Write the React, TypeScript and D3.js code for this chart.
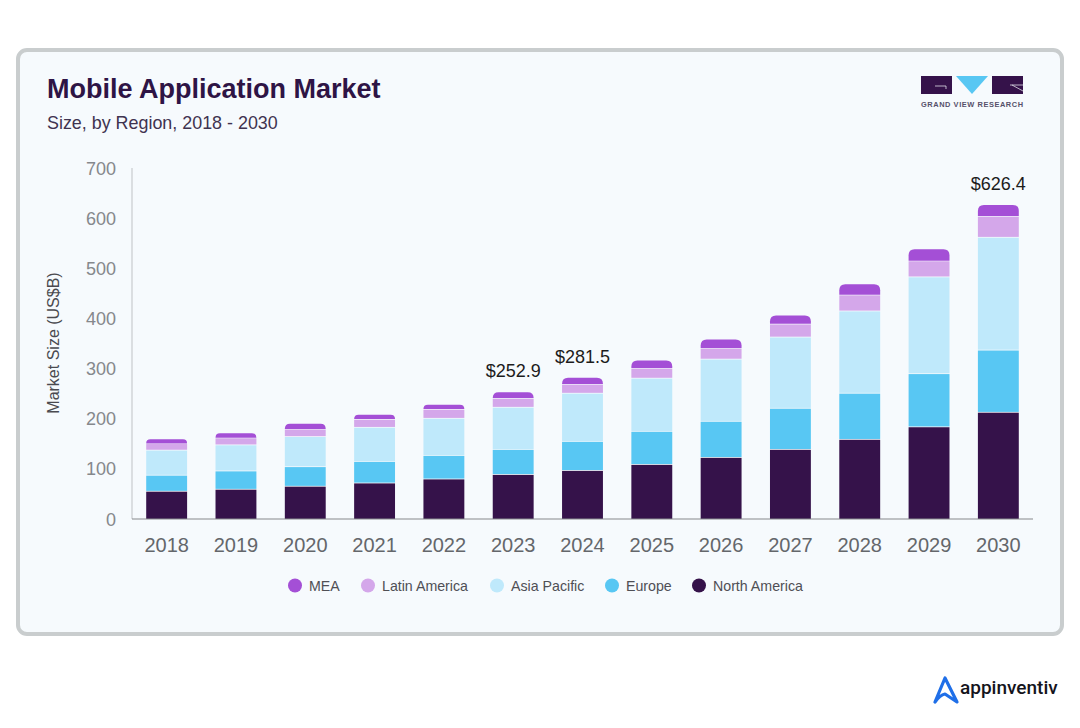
import React from "react";
import * as d3 from "d3";

const years = ["2018","2019","2020","2021","2022","2023","2024","2025","2026","2027","2028","2029","2030"];
const northAmerica = [54.5,58.5,64.5,71,79,88,96,108,122,138,158,183,212];
const europe = [32,36.5,39,43,47,50,58,66,72,82,92,106,124];
const asiaPacific = [50,52,60,68,74,84,96,106,124,142,164,193,225];
const latinAmerica = [13,14,15,16,18,18,18,20,22,26,32,32,42];
const mea = [9.5,10,11.5,10,10,12.9,13.5,16,18,18,22,24,23.4];
const seriesNames = ["North America","Europe","Asia Pacific","Latin America","MEA"];
const seriesColors = ["#35124a","#58c7f3","#bfe9fb","#d4a7ea","#a44fd6"];
const legendOrder = [4,3,2,1,0];
const legendDotX = [295,368,497,612,699];
const yTicks = [0,100,200,300,400,500,600,700];
const callouts: Record<string,string> = { "2023":"$252.9", "2024":"$281.5", "2030":"$626.4" };

const FONT = "'Liberation Sans', Arial, sans-serif";
const allSeries = [northAmerica, europe, asiaPacific, latinAmerica, mea];

const x = d3.scaleBand<string>().domain(years).range([132,1033]).paddingInner(0.41).paddingOuter(0.205);
const y = d3.scaleLinear().domain([0,700]).range([519,168]);

const rows = years.map((yr,i)=>({ year: yr, v0: northAmerica[i], v1: europe[i], v2: asiaPacific[i], v3: latinAmerica[i], v4: mea[i] }));
const stacked = d3.stack<any>().keys(["v0","v1","v2","v3","v4"])(rows);

function topRounded(x0:number,y0:number,w:number,h:number,r:number){
  const p = d3.path();
  const rr = Math.min(r,h);
  p.moveTo(x0,y0+h);
  p.lineTo(x0,y0+rr);
  p.quadraticCurveTo(x0,y0,x0+rr,y0);
  p.lineTo(x0+w-rr,y0);
  p.quadraticCurveTo(x0+w,y0,x0+w,y0+rr);
  p.lineTo(x0+w,y0+h);
  p.closePath();
  return p.toString();
}

export default function App(){
  const bw = x.bandwidth();
  return (
    <svg width={1080} height={728} style={{position:"absolute",left:0,top:0,background:"#fff"}} fontFamily={FONT}>
      <rect x={18} y={50} width={1044} height={584} rx={9} fill="#f6fafd" stroke="#c9cdce" strokeWidth={4}/>
      <text x={47} y={98} fontSize={27} fontWeight={700} fill="#2e1445">Mobile Application Market</text>
      <text x={47} y={129} fontSize={17.9} fill="#3f3350">Size, by Region, 2018 - 2030</text>

      {/* GVR logo */}
      <g>
        <rect x={921} y={76} width={31} height={18} fill="#35124a"/>
        <path d="M935 86H946V89" fill="none" stroke="#f6fafd" strokeWidth={0.7}/>
        <polygon points="956,76 988,76 972,94" fill="#58c7f3"/>
        <rect x={992} y={76} width={31} height={18} fill="#35124a"/>
        <path d="M1010 85L1023 85M1012 85L1023 91" fill="none" stroke="#f6fafd" strokeWidth={0.7}/>
        <text x={921} y={107} fontSize={7.4} fontWeight={700} fill="#55506a" textLength={102}>GRAND VIEW RESEARCH</text>
      </g>

      {/* axes */}
      <line x1={132} x2={132} y1={168} y2={519} stroke="#c9cccf" strokeWidth={1.2}/>
      {yTicks.map(t=>(
        <text key={t} x={116} y={y(t)+6.5} textAnchor="end" fontSize={18} fill="#85888c">{t}</text>
      ))}
      <text transform="translate(59,343) rotate(-90)" textAnchor="middle" fontSize={16} fill="#4a4a4f">Market Size (US$B)</text>

      {/* bars */}
      {stacked.map((s,si)=>s.map((d,i)=>{
        const yr = years[i];
        const x0 = x(yr)!;
        const yTop = y(d[1]);
        const h = y(d[0]) - yTop;
        return si===4
          ? <path key={yr+si} d={topRounded(x0,yTop,bw,h-0.6,6)} fill={seriesColors[si]}/>
          : <rect key={yr+si} x={x0} y={yTop} width={bw} height={si===0?h:h-0.8} fill={seriesColors[si]}/>;
      }))}
      <line x1={132} x2={1033} y1={519} y2={519} stroke="#85888c" strokeWidth={1.2}/>

      {years.map(yr=>(
        <text key={yr} x={x(yr)!+bw/2} y={552} textAnchor="middle" fontSize={20} fill="#64676b">{yr}</text>
      ))}

      {years.map((yr,i)=>callouts[yr] ? (
        <text key={yr} x={x(yr)!+bw/2} y={y(d3.sum(allSeries,s=>s[i]))-15} textAnchor="middle" fontSize={18} fill="#1c1c1c">{callouts[yr]}</text>
      ):null)}

      {/* legend */}
      {legendOrder.map((si,k)=>(
        <g key={si}>
          <circle cx={legendDotX[k]} cy={585.5} r={7} fill={seriesColors[si]}/>
          <text x={legendDotX[k]+14} y={591} fontSize={14.2} fill="#4f4f55">{seriesNames[si]}</text>
        </g>
      ))}

      {/* appinventiv logo */}
      <path d="M935 702L945 678L957 702L945 694Q940 695 935 702" fill="none" stroke="#1f6fe8" strokeWidth={3.2} strokeLinejoin="round" strokeLinecap="round"/>
      <text x={960} y={694} fontSize={19} fontWeight={500} fontFamily="Roboto, 'Noto Sans', sans-serif" fill="#14141c">appinventiv</text>
    </svg>
  );
}
